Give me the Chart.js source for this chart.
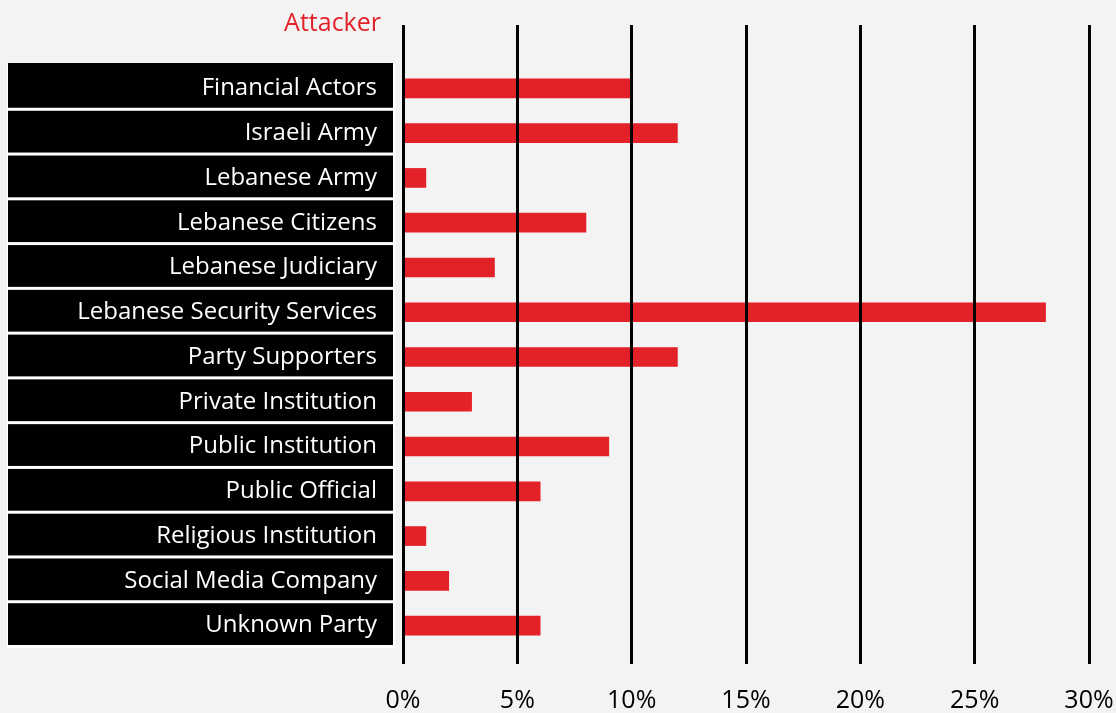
<!DOCTYPE html>
<html>
<head>
<meta charset="utf-8">
<script src="https://cdn.jsdelivr.net/npm/chart.js@4/dist/chart.umd.min.js"></script>
<style>
  html, body { margin: 0; padding: 0; background: #f3f3f3; }
  #wrap { width: 1116px; height: 713px; }
</style>
</head>
<body>
<div id="wrap"><canvas id="attackerChart"></canvas></div>
<script>
// chart data
const categories = [
    'Financial Actors', 'Israeli Army', 'Lebanese Army', 'Lebanese Citizens',
    'Lebanese Judiciary', 'Lebanese Security Services', 'Party Supporters',
    'Private Institution', 'Public Institution', 'Public Official',
    'Religious Institution', 'Social Media Company', 'Unknown Party'
];
const shares = [10, 12, 1, 8, 4, 28.1, 12, 3, 9, 6, 1, 2, 6];
const tickValues = [0, 5, 10, 15, 20, 25, 30];
const chartTitle = 'Attacker';

const RED = '#e32129';
const FONT = "'Open Sans', Lato, sans-serif";

// black label boxes behind the category names + the red heading
const labelBoxes = {
    id: 'labelBoxes',
    beforeDraw(chart) {
        const ctx = chart.ctx;
        const y = chart.scales.y;
        const n = categories.length;
        const band = (y.getPixelForTick(n - 1) - y.getPixelForTick(0)) / (n - 1);
        const first = y.getPixelForTick(0) - band / 2 - 3;
        const last = y.getPixelForTick(n - 1) + band / 2;
        ctx.save();
        ctx.fillStyle = '#ffffff';
        ctx.fillRect(7, first, 388, last - first);
        ctx.fillStyle = '#000000';
        for (let i = 0; i < n; i++) {
            const c = y.getPixelForTick(i);
            let top = c - band / 2;
            if (i === 0) top -= 3;
            ctx.fillRect(8, top, 385, c + band / 2 - 3 - top);
        }
        ctx.restore();
    },
    afterDraw(chart) {
        const ctx = chart.ctx;
        const y = chart.scales.y;
        ctx.save();
        ctx.fillStyle = RED;
        ctx.font = '25px ' + FONT;
        ctx.textAlign = 'right';
        ctx.textBaseline = 'middle';
        ctx.fillText(chartTitle, y.right - 22, 24);
        ctx.restore();
    }
};

document.addEventListener('DOMContentLoaded', () => {
    const ctx = document.getElementById('attackerChart');

    const gridOpts = {
        color: '#000000',
        lineWidth: 3,
        z: 1
    };

    new Chart(ctx, {
        type: 'bar',
        data: {
            labels: categories,
            datasets: [{
                data: shares,
                backgroundColor: RED,
                borderWidth: 0,
                barThickness: 19
            }]
        },
        options: {
            indexAxis: 'y',
            responsive: true,
            maintainAspectRatio: false,
            animation: false,
            layout: { padding: { top: 0, right: 0, bottom: 0, left: 0 } },
            plugins: {
                legend: { display: false },
                tooltip: { enabled: false }
            },
            scales: {
                x: {
                    position: 'bottom',
                    min: 0,
                    max: 30,
                    afterBuildTicks(scale) {
                        scale.ticks = tickValues.map(v => ({ value: v }));
                    },
                    afterFit(scale) {
                        scale.height = 65;
                        scale.paddingRight = 27;
                    },
                    grid: Object.assign({ tickLength: 16, drawOnChartArea: true }, gridOpts),
                    border: { display: false },
                    ticks: {
                        color: '#000000',
                        padding: 22,
                        maxRotation: 0,
                        font: { family: FONT, size: 25 },
                        callback: v => v + '%'
                    }
                },
                x2: {
                    position: 'top',
                    axis: 'x',
                    min: 0,
                    max: 30,
                    afterBuildTicks(scale) {
                        scale.ticks = tickValues.map(v => ({ value: v }));
                    },
                    afterFit(scale) {
                        scale.height = 66;
                        scale.paddingRight = 0;
                    },
                    grid: Object.assign({ tickLength: 41, drawOnChartArea: false }, gridOpts),
                    border: { display: false },
                    ticks: { display: false }
                },
                y: {
                    afterFit(scale) { scale.width = 403; },
                    grid: { display: false, drawTicks: false },
                    border: { display: false },
                    ticks: {
                        color: '#ffffff',
                        padding: 26,
                        autoSkip: false,
                        font: { family: FONT, size: 24, lineHeight: 1.1 }
                    }
                }
            }
        },
        plugins: [labelBoxes]
    });
});
</script>
</body>
</html>
